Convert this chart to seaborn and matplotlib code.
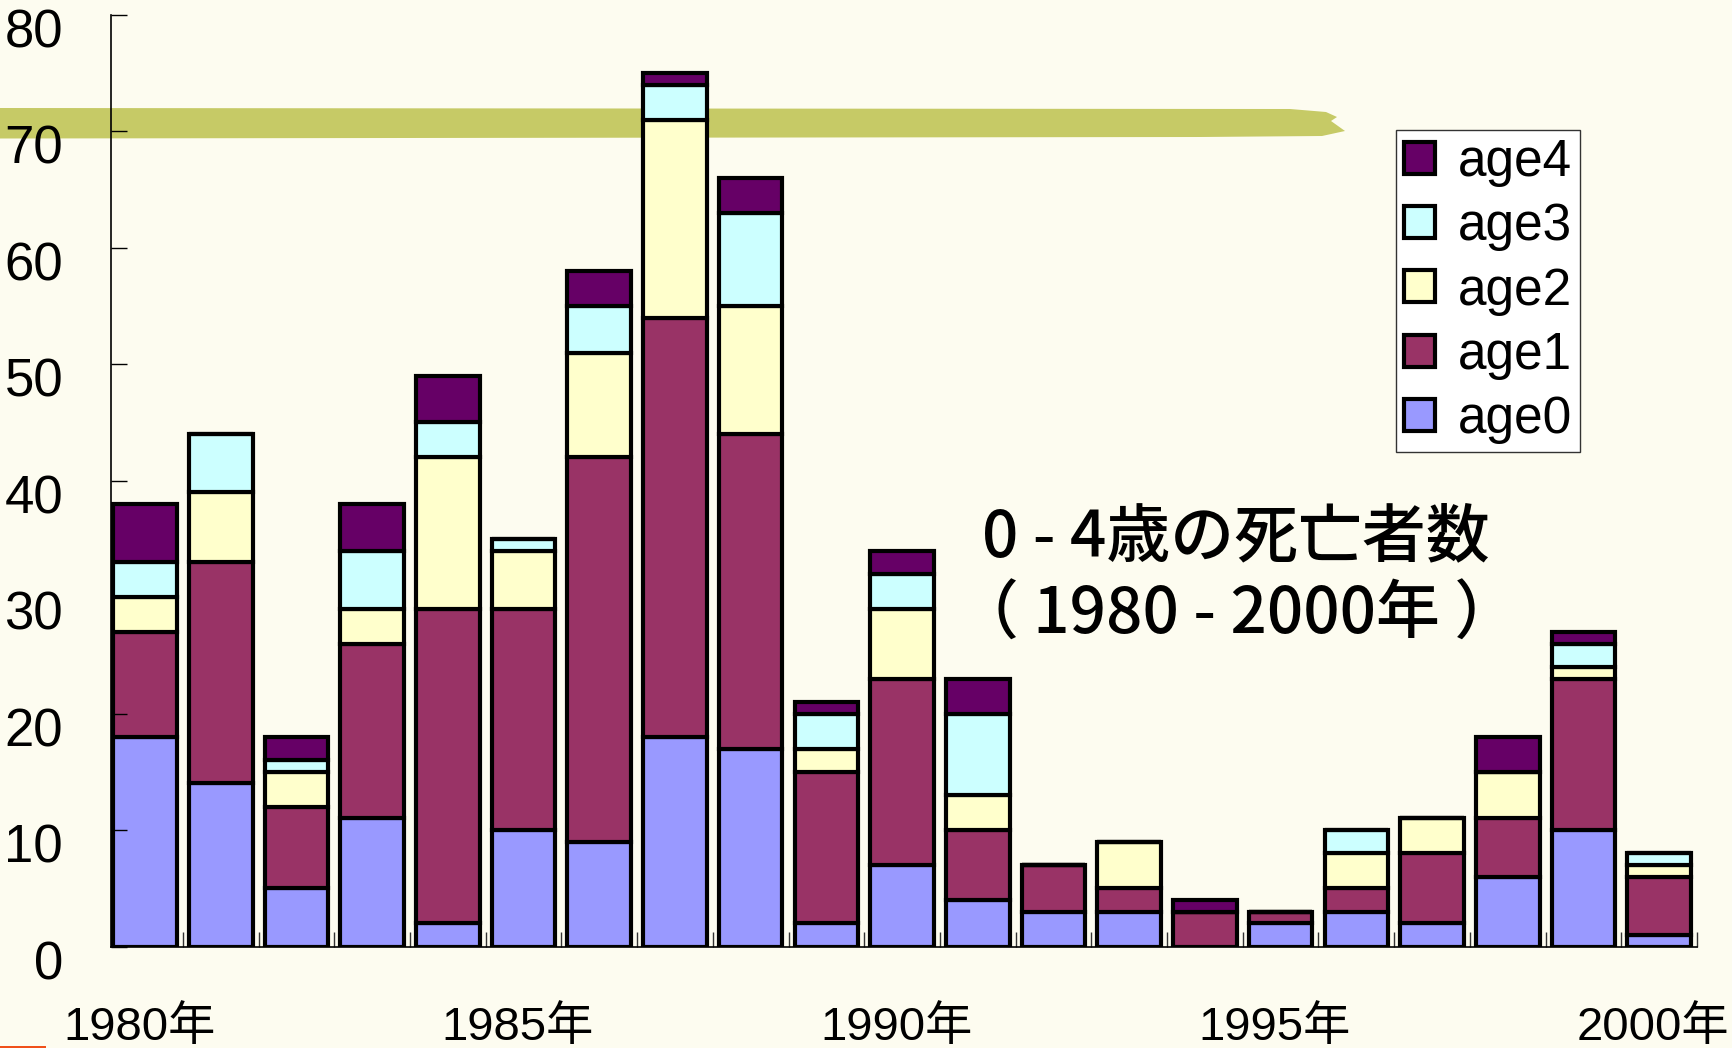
import numpy as np
import pandas as pd
import matplotlib
matplotlib.use("Agg")
import matplotlib.pyplot as plt
import seaborn as sns
from matplotlib import font_manager
from matplotlib.transforms import ScaledTranslation
from matplotlib.patches import Polygon, Rectangle

# ---------------- data ----------------
years = [str(y) for y in range(1980, 2001)]
age0 = [18, 14, 5, 11, 2, 10, 9, 18, 17, 2, 7, 4, 3, 3, 0, 2, 3, 2, 6, 10, 1]
age1 = [9, 19, 7, 15, 27, 19, 33, 36, 27, 13, 16, 6, 4, 2, 3, 1, 2, 6, 5, 13, 5]
age2 = [3, 6, 3, 3, 13, 5, 9, 17, 11, 2, 6, 3, 0, 4, 0, 0, 3, 3, 4, 1, 1]
age3 = [3, 5, 1, 5, 3, 1, 4, 3, 8, 3, 3, 7, 0, 0, 0, 0, 2, 0, 0, 2, 1]
age4 = [5, 0, 2, 4, 4, 0, 3, 1, 3, 1, 2, 3, 0, 0, 1, 0, 0, 0, 3, 1, 0]
series_names = ["age0", "age1", "age2", "age3", "age4"]
colors = ["#9999FF", "#993366", "#FFFFCC", "#CCFFFF", "#660066"]
yticks = [0, 10, 20, 30, 40, 50, 60, 70, 80]
label_years = years[::5]
title1 = "0 - 4歳の死亡者数"
title2 = "（ 1980 - 2000年 ）"

df = pd.DataFrame({"year": years, "age0": age0, "age1": age1,
                   "age2": age2, "age3": age3, "age4": age4})

# ---------------- fonts ----------------
avail = {f.name for f in font_manager.fontManager.ttflist}
narrow = "Liberation Sans Narrow" if "Liberation Sans Narrow" in avail else "Liberation Sans"
cjk = "Noto Sans CJK JP"
fam = [narrow, cjk, "DejaVu Sans"]
plt.rcParams["font.family"] = fam

W, H = 1733, 1048
fig = plt.figure(figsize=(W / 100, H / 100), dpi=100)
bg = "#FDFCF0"
fig.patch.set_facecolor(bg)

# decorative brush stroke (behind the axes)
stroke = [(0, 108), (1290, 109), (1326, 112), (1337, 117), (1331, 121),
          (1345, 131), (1322, 136), (1200, 137), (0, 138.5)]
fig.patches.append(Polygon([(x / W, 1 - y / H) for x, y in stroke], closed=True,
                           transform=fig.transFigure, facecolor="#C6CA66",
                           edgecolor="none", zorder=-1))
fig.patches.append(Rectangle((0, 0), 46 / W, 2.5 / H, transform=fig.transFigure,
                             facecolor="#F0501A", edgecolor="none", zorder=-1))

ax_l, ax_r = 111, 1697
ax_b, ax_t = 946.5, 14.9
ax = fig.add_axes([ax_l / W, 1 - ax_b / H, (ax_r - ax_l) / W, (ax_b - ax_t) / H])
ax.set_facecolor("none")

bottom = np.zeros(len(years))
for name, col in zip(series_names, colors):
    sns.barplot(data=df, x="year", y=name, color=col, saturation=1,
                width=0.84, errorbar=None, bottom=bottom.copy(),
                edgecolor="black", linewidth=3.0, label=name, ax=ax)
    bottom += df[name].to_numpy()

ax.set_xlim(-0.45, 20.5)
ax.set_ylim(0, 80)
ax.set_xlabel("")
ax.set_ylabel("")

for s in ["top", "right"]:
    ax.spines[s].set_visible(False)
for s in ["left", "bottom"]:
    ax.spines[s].set_color("black")
    ax.spines[s].set_linewidth(1.2)

ax.set_yticks(yticks)
ax.set_yticklabels([str(v) for v in yticks])
ax.set_xticks(range(0, len(years), 5))
ax.set_xticklabels([f"{y}年" for y in label_years])
ax.set_xticks(np.arange(0.5, len(years), 1.0), minor=True)

ax.tick_params(axis="y", direction="in", length=11.5, width=1, pad=34.5,
               labelsize=38)
ax.tick_params(axis="x", which="major", length=0, pad=42.5, labelsize=34)
ax.tick_params(axis="x", which="minor", direction="in", length=10.5, width=1,
               color="#333333")

for lab in ax.get_yticklabels():
    lab.set_transform(lab.get_transform() +
                      ScaledTranslation(0, -0.13, fig.dpi_scale_trans))
for lab in ax.get_xticklabels():
    lab.set_transform(lab.get_transform() +
                      ScaledTranslation(-0.06, 0, fig.dpi_scale_trans))

# legend (age4 on top)
handles = list(ax.containers)[::-1]
labels = series_names[::-1]
leg = ax.legend(handles, labels, loc="upper left",
                bbox_to_anchor=(1396 / W, 1 - 130 / H),
                bbox_transform=fig.transFigure, borderaxespad=0,
                prop=font_manager.FontProperties(family=fam, size=37),
                frameon=True, fancybox=False, framealpha=1,
                facecolor="white", edgecolor="#333333",
                borderpad=0.15, labelspacing=0.3, handlelength=0.6,
                handleheight=0.58, handletextpad=0.45)
leg.get_frame().set_linewidth(1.0)

fig.text(1236 / W, 1 - 538 / H, title1, ha="center", va="center",
         fontsize=46, weight="medium", family=[cjk, "DejaVu Sans"], color="black")
fig.text(1237 / W, 1 - 615 / H, title2, ha="center", va="center",
         fontsize=46, weight="medium", family=[cjk, "DejaVu Sans"], color="black")

fig.savefig("out.png", dpi=100, facecolor=fig.get_facecolor())
